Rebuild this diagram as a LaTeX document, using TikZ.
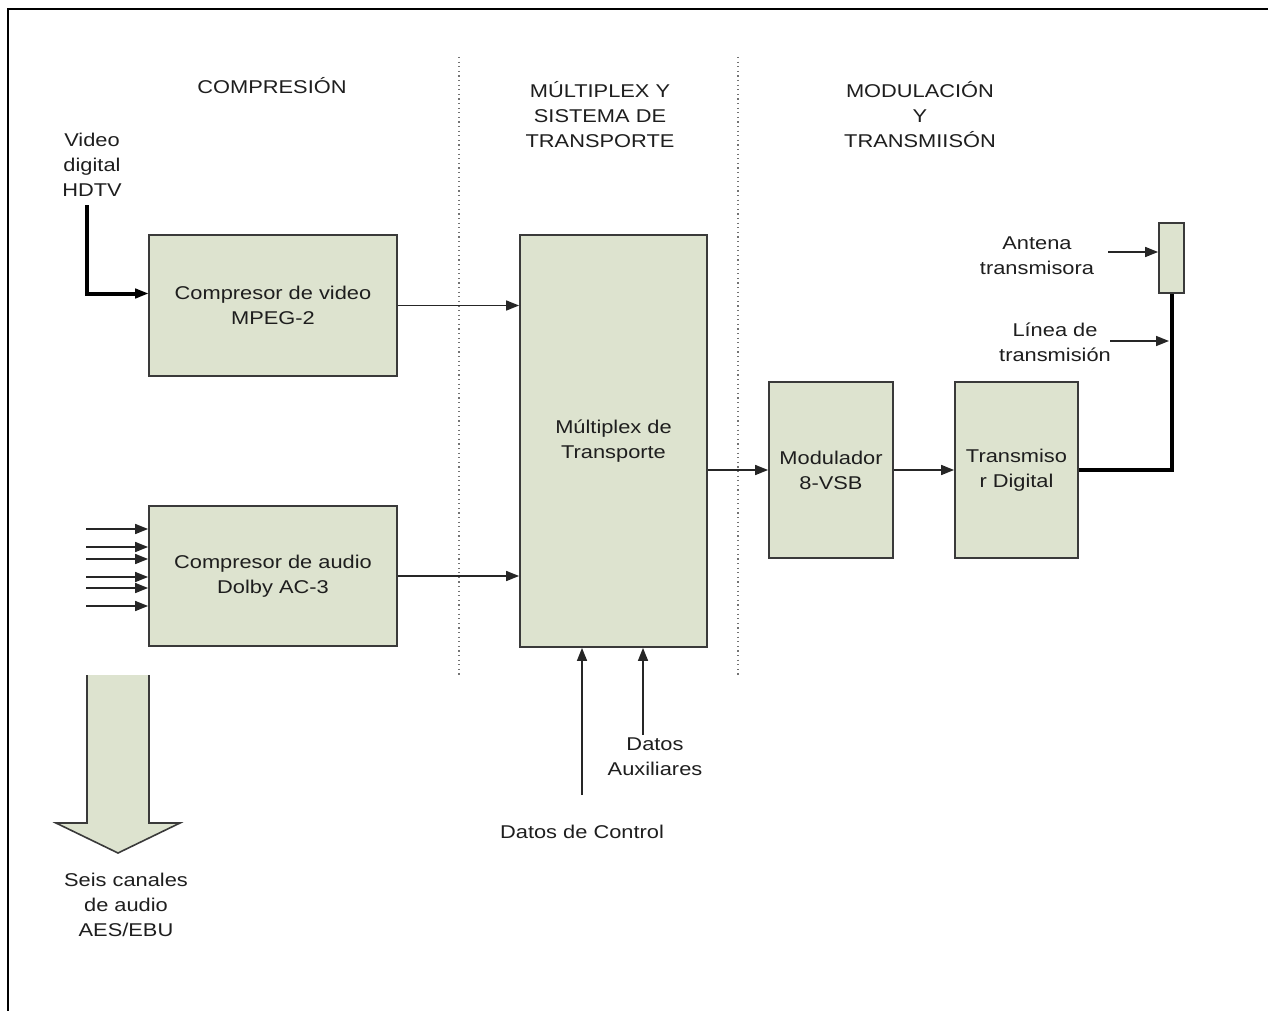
\documentclass[tikz,border=0pt]{standalone}
\usepackage{fontspec}
\setmainfont{Liberation Sans}[FakeStretch=1.18]
\usetikzlibrary{arrows.meta,calc}
\definecolor{boxfill}{HTML}{DDE3CF}
\definecolor{edge}{HTML}{3A3A3A}
\definecolor{ink}{HTML}{1E1E1E}
\begin{document}
\begin{tikzpicture}[x=1pt,y=-1pt,
  every node/.style={font=\fontsize{18.5pt}{25pt}\selectfont, text=ink, inner sep=0pt},
  blk/.style={draw=edge, line width=1.8pt, fill=boxfill, align=center},
  lbl/.style={align=center},
  tip/.style={-{Triangle[length=13pt,width=10pt]}},
  arr/.style={draw=black!85, line width=1.6pt, tip},
  feed/.style={draw=black, line width=4pt},
  divider/.style={draw=black!55, line width=1.2pt, dash pattern=on 1.2pt off 3.4pt}]
\useasboundingbox (0,0) rectangle (1268,1011);
% outer frame
\draw[line width=2pt] (8,1011) -- (8,9) -- (1268,9);

% section dividers and titles
\draw[divider] (459,57) -- (459,677);
\draw[divider] (738,57) -- (738,677);
\node[lbl] (tcomp) at (272,86) {COMPRESIÓN};
\node[lbl] (tmux) at (600,115) {MÚLTIPLEX Y\\SISTEMA DE\\TRANSPORTE};
\node[lbl] (tmod) at (920,115) {MODULACIÓN\\Y\\TRANSMIISÓN};

% blocks
\node[blk, minimum width=248pt, minimum height=141pt] (vbox) at (273,305.5) {Compresor de video\\MPEG-2};
\node[blk, minimum width=248pt, minimum height=140pt] (abox) at (273,576) {Compresor de audio\\Dolby AC-3};
\node[blk, minimum width=187pt, minimum height=412pt] (mux) at (613.5,441) {Múltiplex de\\Transporte};
\node[blk, minimum width=124pt, minimum height=176pt] (mod) at (831,470) {Modulador\\8-VSB};
\node[blk, minimum width=123pt, minimum height=176pt] (tx) at (1016.5,470) {Transmiso\\r Digital};
\node[blk, minimum width=25pt, minimum height=70pt] (ant) at (1171.5,258) {};

% video input
\node[lbl] (vin) at (92,165) {Video\\digital\\HDTV};
\coordinate (vstart) at (87,205);
\draw[feed] (vstart) |- ([xshift=-10pt,yshift=12pt]vbox.west);
\draw[draw=black, line width=1.6pt, tip] ([xshift=-16pt,yshift=12pt]vbox.west) -- ([yshift=12pt]vbox.west);

% audio inputs
\foreach \yy [count=\i] in {529,547,559,577,588,606} {
  \coordinate (ain\i) at (86,\yy);
  \draw[arr] (ain\i) -- (ain\i -| abox.west);
}

% six-channel output arrow
\fill[boxfill] (87,675) -- (87,823) -- (56,823) -- (118,853) -- (180,823) -- (149,823) -- (149,675) -- cycle;
\draw[draw=edge, line width=1.6pt, line join=miter] (87,675) -- (87,823) -- (56,823) -- (118,853) -- (180,823) -- (149,823) -- (149,675);
\node[lbl] (aout) at (126,905) {Seis canales\\de audio\\AES/EBU};

% compressors to multiplexer
\draw[arr] (vbox.east) -- (vbox.east -| mux.west);
\draw[arr] (abox.east) -- (abox.east -| mux.west);

% data inputs
\node[lbl] (ctrl) at (582,832) {Datos de Control};
\node[lbl] (aux) at (655,757) {Datos\\Auxiliares};
\coordinate (cstart) at (582,795);
\coordinate (xstart) at (643,735);
\draw[arr] (cstart) -- (cstart |- mux.south);
\draw[arr] (xstart) -- (xstart |- mux.south);

% modulation chain
\draw[arr] (mod.west -| mux.east) -- (mod.west);
\draw[arr] (mod.east) -- (tx.west);
\draw[feed, line join=miter] (tx.east) -| (ant.south);

% antenna side labels
\node[lbl] (lant) at (1037,256) {Antena\\transmisora};
\node[lbl] (lline) at (1055,342) {Línea de\\transmisión};
\coordinate (antin) at (1108,252);
\coordinate (linein) at (1110,341);
\coordinate (lineat) at (1169,341);
\draw[arr] (antin) -- (antin -| ant.west);
\draw[arr] (linein) -- (lineat);
\end{tikzpicture}
\end{document}
